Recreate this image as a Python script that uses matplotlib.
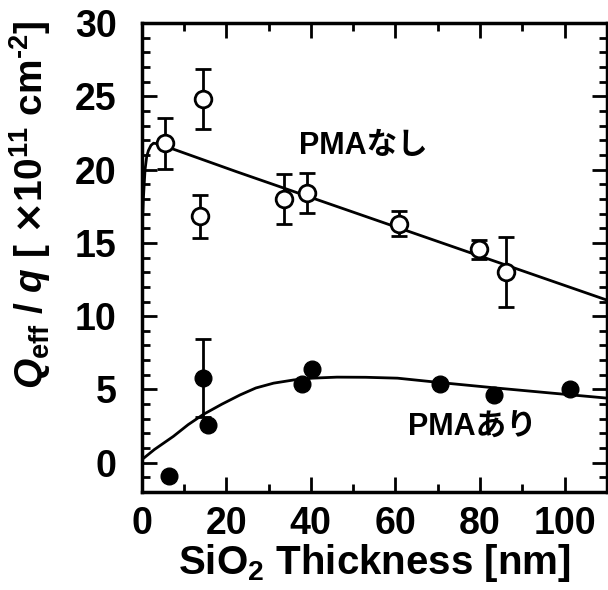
import matplotlib
matplotlib.use("Agg")
import matplotlib.pyplot as plt
from matplotlib.ticker import MultipleLocator

plt.rcParams["font.family"] = ["Liberation Sans", "Noto Sans CJK JP", "DejaVu Sans"]
plt.rcParams["font.weight"] = "bold"
plt.rcParams["mathtext.fontset"] = "custom"
plt.rcParams["mathtext.rm"] = "Liberation Sans:bold"
plt.rcParams["mathtext.bf"] = "Liberation Sans:bold"
plt.rcParams["mathtext.it"] = "Liberation Sans:bold:italic"
plt.rcParams["mathtext.sf"] = "DejaVu Sans"

# PMAなし (open circles)
x_open = [5.5, 14.5, 13.7, 33.6, 39.1, 60.9, 79.8, 86.2]
y_open = [21.8, 24.8, 16.8, 18.0, 18.4, 16.3, 14.55, 13.0]
err_open = [1.75, 2.05, 1.5, 1.7, 1.35, 0.85, 0.65, 2.4]

# PMAあり (filled circles)
x_fill = [6.5, 14.6, 15.6, 37.9, 40.3, 70.6, 83.4, 101.2]
y_fill = [-0.9, 5.77, 2.6, 5.38, 6.38, 5.38, 4.63, 5.02]
err_fill = [0.0, 2.65, 0.0, 0.0, 0.0, 0.0, 0.0, 0.0]

# fitted curves
fit_open_x = [0.0, 0.4, 0.8, 1.2, 1.6, 2.2, 2.8, 4.0, 5.5, 22.5, 40.0, 60.0, 80.0, 110.0]
fit_open_y = [15.0, 18.0, 20.0, 20.9, 21.3, 21.65, 21.8, 21.75, 21.6, 19.85, 18.1, 16.1, 14.1, 11.1]
fit_fill_x = [0.0, 3.0, 7.5, 11.0, 14.6, 19.0, 23.3, 27.0, 31.2, 36.0, 40.3, 46.2, 53.0, 60.5, 70.6, 84.2, 97.0, 110.0]
fit_fill_y = [0.2, 0.9, 1.8, 2.6, 3.3, 4.0, 4.63, 5.1, 5.43, 5.65, 5.77, 5.84, 5.83, 5.77, 5.47, 5.09, 4.75, 4.41]

fig = plt.figure(figsize=(6.08, 5.9), dpi=100)
ax = fig.add_axes([0.233, 0.166, 0.765, 0.795])

ax.plot(fit_open_x, fit_open_y, color="black", linewidth=2.0)
ax.plot(fit_fill_x, fit_fill_y, color="black", linewidth=2.0)

ax.errorbar(x_open, y_open, yerr=err_open, fmt="o", color="black",
            markerfacecolor="white", markeredgecolor="black", markersize=12,
            markeredgewidth=2.0, elinewidth=2.0, capsize=6, capthick=2.0, zorder=3)
ax.errorbar(x_fill, y_fill, yerr=err_fill, fmt="o", color="black",
            markerfacecolor="black", markersize=12, elinewidth=2.0,
            capsize=6, capthick=2.0, zorder=3)

ax.text(52.5, 21.6, "PMAなし", fontsize=22, fontweight="bold",
        ha="center", va="center")
ax.text(78.3, 2.4, "PMAあり", fontsize=22, fontweight="bold",
        ha="center", va="center")

ax.set_xlim(0, 110)
ax.set_ylim(-2, 30)
ax.xaxis.set_major_locator(MultipleLocator(20))
ax.xaxis.set_minor_locator(MultipleLocator(10))
ax.yaxis.set_major_locator(MultipleLocator(5))
ax.yaxis.set_minor_locator(MultipleLocator(1))

ax.tick_params(which="both", direction="in", top=True, right=True, width=2)
ax.tick_params(which="major", length=11, labelsize=27)
ax.tick_params(axis="y", which="major", pad=18)
ax.tick_params(axis="x", which="major", pad=10)
ax.tick_params(which="minor", length=6)
for lbl in ax.get_xticklabels() + ax.get_yticklabels():
    lbl.set_fontweight("bold")
for sp in ax.spines.values():
    sp.set_linewidth(2.5)

ax.set_xlabel(r"SiO$_{\mathregular{2}}$ Thickness [nm]", fontsize=29,
              fontweight="bold", labelpad=0)
ax.set_ylabel(r"$Q_{\mathregular{eff}}$ / $q$ [ $\mathsf{×}$10$^{\mathregular{11}}$ cm$^{\mathregular{‐2}}$]",
              fontsize=28, fontweight="bold")
ax.yaxis.set_label_coords(-0.19, 0.612)

fig.savefig("out.png", dpi=100)
